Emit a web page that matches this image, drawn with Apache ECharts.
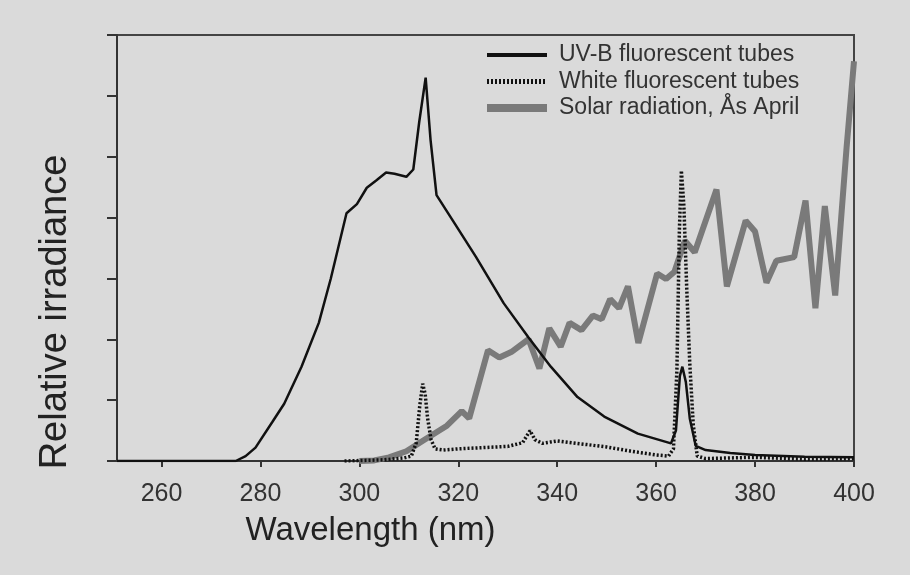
<!DOCTYPE html>
<html>
<head>
<meta charset="utf-8">
<script src="https://cdn.jsdelivr.net/npm/echarts@6/dist/echarts.min.js"></script>
<style>html,body{margin:0;padding:0;background:#dadada;}#c{width:910px;height:575px;}</style>
</head>
<body>
<div id="c"></div>
<script>
var xTicks = [260, 280, 300, 320, 340, 360, 380, 400];

var uvbNm  = [251,275,277,279,282.4,284.8,288.3,291.8,294.2,297.4,299.5,301.5,303.4,305.4,307.1,309.5,310.9,312.1,313.4,314.4,315.6,318.9,323.6,329.2,334.2,338.7,344.1,349.5,356.3,363,364,364.8,365.3,366,366.8,368,370,375,380,390,400];
var uvbVal = [0,0,0.08,0.22,0.64,0.94,1.55,2.27,2.99,4.07,4.22,4.49,4.61,4.74,4.72,4.67,4.79,5.57,6.3,5.27,4.37,3.95,3.35,2.59,2.03,1.55,1.05,0.73,0.45,0.29,0.5,1.4,1.55,1.3,0.7,0.25,0.18,0.13,0.1,0.07,0.06];

var whiteNm  = [297,305,309,310.5,311.5,312.2,312.8,313.3,313.8,314.5,315.3,317,320,325,330,333,334.5,335.5,337,340,343,346,350,355,360,362.5,363.5,364.2,364.7,365.1,365.6,366.2,366.8,367.5,368.3,370,380,390,400];
var whiteVal = [0,0.02,0.05,0.08,0.3,0.9,1.27,1.1,0.7,0.35,0.2,0.18,0.2,0.22,0.24,0.3,0.5,0.35,0.29,0.33,0.3,0.27,0.23,0.16,0.1,0.08,0.2,1.5,3.8,4.77,4.2,2.8,1.6,0.6,0.08,0.04,0.06,0.03,0.04];

var solarNm  = [300,303,306,309.5,313,317.7,320.7,322.2,326,328.3,330.7,334.2,336.4,338.4,340.7,342.5,344.9,347.2,349,350.7,352.5,354.3,356.4,360.2,362,363.7,365.8,367.8,372.2,374.3,378.1,380,382.3,384.3,387.9,390.2,392.2,394.1,396.2,398.5,400];
var solarVal = [0,0.01,0.06,0.16,0.34,0.58,0.82,0.7,1.82,1.7,1.79,2.0,1.52,2.18,1.88,2.27,2.15,2.39,2.33,2.66,2.51,2.87,1.94,3.08,2.99,3.11,3.62,3.43,4.46,2.87,3.95,3.77,2.93,3.29,3.35,4.28,2.51,4.19,2.72,5.15,6.57];

var seriesNames = ['UV-B fluorescent tubes', 'White fluorescent tubes', 'Solar radiation, Ås April'];

function pairs(xs, ys) { return xs.map(function (x, i) { return [x, ys[i]]; }); }

var chart = echarts.init(document.getElementById('c'), null, {renderer: 'canvas'});
var font = 'Liberation Sans, Arial, sans-serif';
chart.setOption({
  backgroundColor: '#dadada',
  animation: false,
  grid: {left: 117, right: 56, top: 35, bottom: 114, show: true, borderColor: '#444', borderWidth: 2, backgroundColor: 'transparent'},
  legend: {
    orient: 'vertical', left: 483, top: 42, padding: 0, itemWidth: 60, itemHeight: 14, itemGap: 0.5,
    itemStyle: {opacity: 0},
    textStyle: {fontFamily: font, fontSize: 23, color: '#333', lineHeight: 26, padding: [0, 0, 0, 7]},
    data: [
      {name: seriesNames[0], itemStyle: {opacity: 0}, lineStyle: {width: 4}},
      {name: seriesNames[1], itemStyle: {opacity: 0}, lineStyle: {width: 5}},
      {name: seriesNames[2], itemStyle: {opacity: 0}, lineStyle: {width: 8}}
    ]
  },
  xAxis: {
    type: 'value', min: 251, max: 400,
    name: 'Wavelength (nm)', nameLocation: 'middle', nameGap: 53,
    nameTextStyle: {fontFamily: font, fontSize: 33, color: '#222', padding: [0, 230, 0, 0]},
    axisLine: {lineStyle: {color: '#333', width: 2}},
    axisTick: {show: true, length: 6, lineStyle: {color: '#333', width: 2}, customValues: xTicks},
    axisLabel: {fontFamily: font, fontSize: 25, color: '#333', margin: 21, customValues: xTicks},
    splitLine: {show: false}
  },
  yAxis: {
    type: 'value', min: 0, max: 7, interval: 1,
    name: 'Relative irradiance', nameLocation: 'middle', nameGap: 42, nameRotate: 90,
    nameTextStyle: {fontFamily: font, fontSize: 38, color: '#222', padding: [0, 128, 0, 0]},
    axisLine: {lineStyle: {color: '#333', width: 2}},
    axisTick: {show: true, length: 10, lineStyle: {color: '#333', width: 2}},
    axisLabel: {show: false},
    splitLine: {show: false}
  },
  series: [
    {name: seriesNames[0], type: 'line', data: pairs(uvbNm, uvbVal), symbol: 'none', showSymbol: false,
     lineStyle: {color: '#111', width: 2.5}, itemStyle: {color: '#111'}, z: 4},
    {name: seriesNames[1], type: 'line', data: pairs(whiteNm, whiteVal), symbol: 'none', showSymbol: false,
     lineStyle: {color: '#111', width: 3.5, type: [2, 2]}, itemStyle: {color: '#111'}, z: 5},
    {name: seriesNames[2], type: 'line', data: pairs(solarNm, solarVal), symbol: 'none', showSymbol: false,
     lineStyle: {color: '#7a7a7a', width: 6}, itemStyle: {color: '#7a7a7a'}, z: 3}
  ]
});
</script>
</body>
</html>
